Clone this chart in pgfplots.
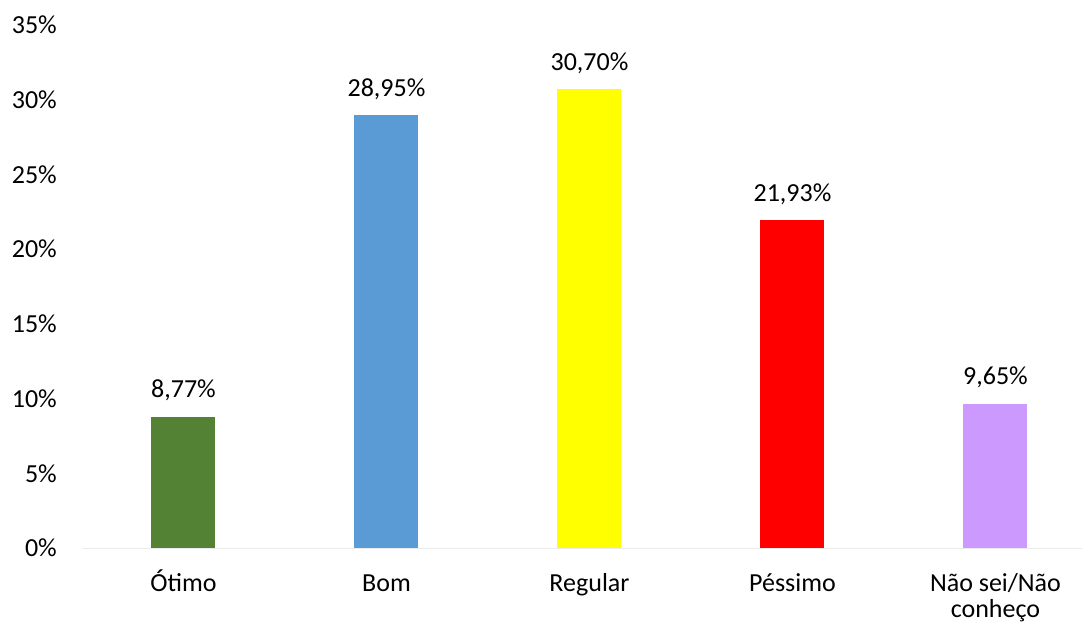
\documentclass[border=0pt]{standalone}
\usepackage{fontspec}
\setmainfont{Carlito}
\usepackage{pgfplots}
\pgfplotsset{compat=1.18}
\definecolor{cGreen}{HTML}{548235}
\definecolor{cBlue}{HTML}{5B9BD5}
\definecolor{cYellow}{HTML}{FFFF00}
\definecolor{cRed}{HTML}{FF0000}
\definecolor{cLilac}{HTML}{CC99FF}
\newcommand\naosei{\vtop{\baselineskip=26pt\halign{\hfil##\hfil\cr Não sei/Não\cr conheço\cr}}}
\begin{document}
\fontsize{26}{26}\selectfont
\begin{tikzpicture}[x=1pt,y=1pt]
\path[use as bounding box] (0,0) rectangle (1082,625);
\begin{axis}[
  at={(82pt,77pt)}, anchor=south west,
  scale only axis, width=1015pt, height=523pt,
  xmin=-0.5, xmax=4.5, ymin=0, ymax=35,
  axis line style={draw=none},
  axis x line*=bottom, axis y line*=left,
  major tick length=0pt,
  xtick={0,1,2,3,4},
  xticklabels={Ótimo,Bom,Regular,Péssimo,\naosei},
  ytick={0,5,10,15,20,25,30,35},
  yticklabels={0\%,5\%,10\%,15\%,20\%,25\%,30\%,35\%},
  /pgf/number format/assume math mode=true,
  xticklabel style={anchor=base, inner sep=0pt, yshift=-43pt, font=\fontsize{26}{26}\selectfont},
  yticklabel style={anchor=east, inner sep=0pt, xshift=-25pt, font=\fontsize{26}{26}\selectfont},
  ybar, bar width=64pt, bar shift=0pt,
  nodes near coords, point meta=explicit symbolic,
  every node near coord/.append style={anchor=base, inner sep=0pt, yshift=19pt, font=\fontsize{26}{26}\selectfont, text=black},
  clip=false,
]
\draw[gray!15, line width=1pt] (axis cs:-0.5,0) -- (axis cs:4.5,0);
\addplot[fill=cGreen, draw=none] coordinates {(0,8.77) [8,77\%]};
\addplot[fill=cBlue, draw=none] coordinates {(1,28.95) [28,95\%]};
\addplot[fill=cYellow, draw=none] coordinates {(2,30.70) [30,70\%]};
\addplot[fill=cRed, draw=none] coordinates {(3,21.93) [21,93\%]};
\addplot[fill=cLilac, draw=none] coordinates {(4,9.65) [9,65\%]};
\end{axis}
\end{tikzpicture}
\end{document}
